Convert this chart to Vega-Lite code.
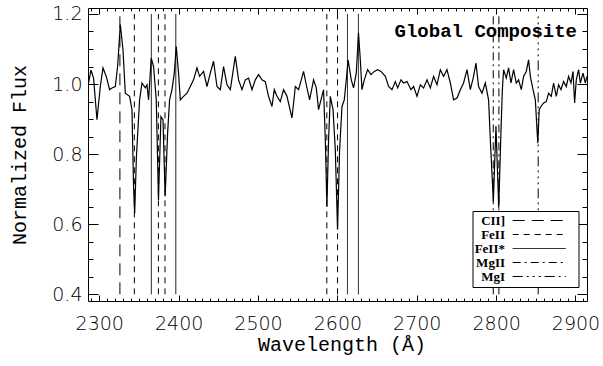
{
  "$schema": "https://vega.github.io/schema/vega-lite/v6.json",
  "width": 499,
  "height": 293,
  "autosize": {"type": "none"},
  "padding": {"left": 88, "top": 8, "right": 16, "bottom": 65},
  "background": "white",
  "config": {
    "view": {"stroke": null},
    "axis": {
      "grid": false,
      "domainColor": "black",
      "tickColor": "black",
      "labelColor": "black",
      "titleColor": "black",
      "tickWidth": 1,
      "domainWidth": 1,
      "labelFont": "DejaVu Sans",
      "labelFontWeight": 200,
      "labelFontSize": 19,
      "titleFont": "Liberation Mono",
      "titleFontSize": 20,
      "titleFontWeight": "normal",
      "labelFlush": false,
      "labelOverlap": false,
      "labelBound": false
    },
    "legend": {
      "orient": "none", "legendX": 384.5, "legendY": 203, "title": null,
      "direction": "vertical", "fillColor": "white", "strokeColor": "black", "padding": 3,
      "symbolType": "M-5,0H5M6.4,0", "symbolSize": 112.36, "symbolStrokeColor": "black", "symbolStrokeWidth": 1,
      "rowPadding": -1, "symbolOffset": 57.2, "labelOffset": -40.7, "labelAlign": "right",
      "labelFont": "Liberation Serif", "labelFontWeight": "bold", "labelFontSize": 13, "labelColor": "black", "labelLimit": 0
    }
  },
  "title": {
    "text": "Global Composite",
    "orient": "top",
    "anchor": "end",
    "frame": "group",
    "font": "Liberation Mono",
    "fontWeight": "bold",
    "fontSize": 19,
    "color": "black",
    "offset": 0,
    "dx": -10,
    "dy": 51,
    "baseline": "alphabetic"
  },
  "datasets": {
    "spec": [
      {"w": 2286.5, "f": 1.003}, {"w": 2289.5, "f": 1.04}, {"w": 2292.8, "f": 1.017}, {"w": 2297.1, "f": 0.898},
      {"w": 2301.3, "f": 0.993}, {"w": 2304.7, "f": 1.046}, {"w": 2308.8, "f": 1.022}, {"w": 2313.0, "f": 0.984},
      {"w": 2316.0, "f": 0.989}, {"w": 2320.2, "f": 0.993}, {"w": 2323.1, "f": 1.05}, {"w": 2326.5, "f": 1.17},
      {"w": 2329.9, "f": 1.098}, {"w": 2332.8, "f": 0.974}, {"w": 2338.2, "f": 0.965}, {"w": 2341.2, "f": 0.927},
      {"w": 2343.2, "f": 0.707}, {"w": 2344.6, "f": 0.631}, {"w": 2346.8, "f": 0.793}, {"w": 2350.8, "f": 0.955},
      {"w": 2353.8, "f": 1.003}, {"w": 2358.0, "f": 0.989}, {"w": 2360.1, "f": 0.998}, {"w": 2362.1, "f": 0.955},
      {"w": 2365.5, "f": 1.074}, {"w": 2368.4, "f": 1.05}, {"w": 2371.8, "f": 0.955}, {"w": 2374.6, "f": 0.669},
      {"w": 2377.7, "f": 0.907}, {"w": 2380.3, "f": 0.898}, {"w": 2383.0, "f": 0.68}, {"w": 2386.1, "f": 0.86},
      {"w": 2388.6, "f": 0.955}, {"w": 2391.6, "f": 0.984}, {"w": 2394.5, "f": 1.031}, {"w": 2397.0, "f": 1.107},
      {"w": 2399.9, "f": 1.031}, {"w": 2402.1, "f": 0.955}, {"w": 2406.2, "f": 0.965}, {"w": 2410.5, "f": 0.974},
      {"w": 2414.7, "f": 0.993}, {"w": 2418.8, "f": 1.012}, {"w": 2423.1, "f": 1.046}, {"w": 2426.4, "f": 1.022},
      {"w": 2431.4, "f": 1.036}, {"w": 2435.7, "f": 0.993}, {"w": 2439.9, "f": 1.031}, {"w": 2444.0, "f": 1.065},
      {"w": 2448.3, "f": 0.993}, {"w": 2452.5, "f": 0.984}, {"w": 2456.6, "f": 1.05}, {"w": 2460.9, "f": 0.998},
      {"w": 2465.1, "f": 0.984}, {"w": 2471.4, "f": 1.079}, {"w": 2475.5, "f": 1.012}, {"w": 2479.8, "f": 0.984},
      {"w": 2484.0, "f": 1.012}, {"w": 2488.1, "f": 1.017}, {"w": 2492.4, "f": 0.984}, {"w": 2496.6, "f": 1.012},
      {"w": 2500.7, "f": 1.027}, {"w": 2505.0, "f": 1.012}, {"w": 2509.2, "f": 1.007}, {"w": 2513.3, "f": 0.965},
      {"w": 2517.6, "f": 0.936}, {"w": 2520.5, "f": 0.984}, {"w": 2523.9, "f": 0.965}, {"w": 2528.1, "f": 0.95},
      {"w": 2532.2, "f": 0.984}, {"w": 2536.5, "f": 0.965}, {"w": 2542.8, "f": 0.903}, {"w": 2547.0, "f": 0.993},
      {"w": 2551.1, "f": 0.984}, {"w": 2557.4, "f": 1.036}, {"w": 2560.8, "f": 0.998}, {"w": 2565.0, "f": 0.955},
      {"w": 2570.0, "f": 1.012}, {"w": 2573.4, "f": 0.989}, {"w": 2576.3, "f": 0.927}, {"w": 2579.3, "f": 0.955},
      {"w": 2582.6, "f": 0.984}, {"w": 2584.8, "f": 0.841}, {"w": 2586.8, "f": 0.65}, {"w": 2588.9, "f": 0.841},
      {"w": 2591.1, "f": 0.965}, {"w": 2594.5, "f": 0.927}, {"w": 2597.4, "f": 0.812}, {"w": 2600.2, "f": 0.584},
      {"w": 2602.8, "f": 0.812}, {"w": 2605.8, "f": 0.936}, {"w": 2608.7, "f": 0.955}, {"w": 2611.2, "f": 1.012},
      {"w": 2613.5, "f": 1.069}, {"w": 2617.5, "f": 1.012}, {"w": 2620.4, "f": 0.989}, {"w": 2623.8, "f": 1.031},
      {"w": 2626.6, "f": 1.146}, {"w": 2628.9, "f": 1.069}, {"w": 2631.0, "f": 0.984}, {"w": 2633.9, "f": 1.012},
      {"w": 2638.1, "f": 1.041}, {"w": 2642.3, "f": 1.027}, {"w": 2646.5, "f": 1.036}, {"w": 2650.7, "f": 1.041},
      {"w": 2654.9, "f": 1.036}, {"w": 2660.4, "f": 1.022}, {"w": 2664.5, "f": 0.993}, {"w": 2668.8, "f": 0.984},
      {"w": 2673.0, "f": 1.007}, {"w": 2675.9, "f": 0.989}, {"w": 2680.1, "f": 1.012}, {"w": 2683.4, "f": 1.003},
      {"w": 2687.7, "f": 1.007}, {"w": 2692.7, "f": 0.984}, {"w": 2696.0, "f": 0.993}, {"w": 2700.3, "f": 0.965},
      {"w": 2704.5, "f": 0.998}, {"w": 2708.6, "f": 0.989}, {"w": 2712.9, "f": 1.012}, {"w": 2717.1, "f": 0.989},
      {"w": 2721.2, "f": 1.022}, {"w": 2725.5, "f": 0.998}, {"w": 2729.7, "f": 1.041}, {"w": 2733.8, "f": 1.022},
      {"w": 2738.1, "f": 1.041}, {"w": 2742.3, "f": 1.003}, {"w": 2746.4, "f": 0.955}, {"w": 2750.7, "f": 0.96},
      {"w": 2754.9, "f": 0.984}, {"w": 2759.0, "f": 1.003}, {"w": 2763.3, "f": 1.041}, {"w": 2767.5, "f": 0.984},
      {"w": 2771.6, "f": 1.022}, {"w": 2774.6, "f": 1.06}, {"w": 2777.9, "f": 0.993}, {"w": 2782.2, "f": 0.974},
      {"w": 2786.4, "f": 1.003}, {"w": 2790.5, "f": 0.955}, {"w": 2792.7, "f": 0.841}, {"w": 2796.5, "f": 0.665},
      {"w": 2799.8, "f": 0.88}, {"w": 2803.3, "f": 0.647}, {"w": 2805.9, "f": 0.85}, {"w": 2807.8, "f": 0.98},
      {"w": 2809.4, "f": 1.041}, {"w": 2812.8, "f": 1.017}, {"w": 2815.7, "f": 1.046}, {"w": 2818.7, "f": 1.003},
      {"w": 2822.0, "f": 1.041}, {"w": 2825.4, "f": 1.003}, {"w": 2828.3, "f": 1.012}, {"w": 2831.7, "f": 0.984},
      {"w": 2834.6, "f": 1.022}, {"w": 2838.0, "f": 1.036}, {"w": 2840.9, "f": 1.069}, {"w": 2843.1, "f": 1.022},
      {"w": 2846.5, "f": 0.984}, {"w": 2849.4, "f": 0.955}, {"w": 2852.5, "f": 0.831}, {"w": 2854.3, "f": 0.927},
      {"w": 2856.5, "f": 0.936}, {"w": 2859.8, "f": 0.946}, {"w": 2863.2, "f": 0.95}, {"w": 2866.1, "f": 0.974},
      {"w": 2869.5, "f": 0.965}, {"w": 2872.4, "f": 1.003}, {"w": 2875.8, "f": 0.965}, {"w": 2878.7, "f": 0.998},
      {"w": 2881.7, "f": 0.984}, {"w": 2885.0, "f": 1.007}, {"w": 2888.4, "f": 0.993}, {"w": 2891.3, "f": 1.022},
      {"w": 2894.3, "f": 1.003}, {"w": 2896.9, "f": 1.036}, {"w": 2898.9, "f": 0.946}, {"w": 2901.0, "f": 1.012},
      {"w": 2903.9, "f": 1.041}, {"w": 2906.1, "f": 1.003}, {"w": 2909.5, "f": 1.031}, {"w": 2912.4, "f": 1.003},
      {"w": 2914.5, "f": 1.022}
    ],
    "lines": [
      {"w": 2326.0, "ion": "CII]"},
      {"w": 2344.2, "ion": "FeII"},
      {"w": 2374.5, "ion": "FeII"},
      {"w": 2382.8, "ion": "FeII"},
      {"w": 2586.7, "ion": "FeII"},
      {"w": 2600.2, "ion": "FeII"},
      {"w": 2365.6, "ion": "FeII*"},
      {"w": 2396.4, "ion": "FeII*"},
      {"w": 2612.7, "ion": "FeII*"},
      {"w": 2626.5, "ion": "FeII*"},
      {"w": 2796.4, "ion": "MgII"},
      {"w": 2803.5, "ion": "MgII"},
      {"w": 2853.0, "ion": "MgI"}
    ]
  },
  "resolve": {"axis": {"x": "independent", "y": "independent"}},
  "layer": [
    {
      "data": {"name": "spec"},
      "mark": {"type": "line", "stroke": "black", "strokeWidth": 1.2, "clip": true},
      "encoding": {
        "x": {
          "field": "w", "type": "quantitative",
          "scale": {"domain": [2285.8, 2914.5], "nice": false, "zero": false},
          "axis": {
            "orient": "bottom",
            "values": [2300, 2400, 2500, 2600, 2700, 2800, 2900],
            "format": "d",
            "tickSize": -6,
            "labelPadding": 19,
            "title": "Wavelength (Å)",
            "titleX": 253.5,
            "titleY": 49,
            "titleBaseline": "alphabetic"
          }
        },
        "y": {
          "field": "f", "type": "quantitative",
          "scale": {"domain": [0.381, 1.217], "nice": false, "zero": false},
          "axis": {
            "orient": "left",
            "values": [0.4, 0.6, 0.8, 1.0, 1.2],
            "format": ".1f",
            "tickSize": -10,
            "labelPadding": 16,
            "title": "Normalized Flux",
            "titleX": -63,
            "titleBaseline": "alphabetic"
          }
        }
      }
    },
    {
      "data": {"name": "lines"},
      "transform": [{"filter": {"field": "ion", "oneOf": ["CII]", "FeII"]}}],
      "mark": {"type": "rule", "stroke": "black", "strokeWidth": 1},
      "encoding": {
        "x": {
          "field": "w", "type": "quantitative",
          "scale": {"domain": [2285.8, 2914.5], "nice": false, "zero": false},
          "axis": {
            "orient": "bottom",
            "values": [2290, 2300, 2310, 2320, 2330, 2340, 2350, 2360, 2370, 2380, 2390, 2400, 2410, 2420, 2430, 2440, 2450, 2460, 2470, 2480, 2490, 2500, 2510, 2520, 2530, 2540, 2550, 2560, 2570, 2580, 2590, 2600, 2610, 2620, 2630, 2640, 2650, 2660, 2670, 2680, 2690, 2700, 2710, 2720, 2730, 2740, 2750, 2760, 2770, 2780, 2790, 2800, 2810, 2820, 2830, 2840, 2850, 2860, 2870, 2880, 2890, 2900, 2910],
            "tickSize": -3,
            "labels": false,
            "domain": false,
            "title": null
          }
        },
        "y": {
          "datum": 0.4, "type": "quantitative",
          "scale": {"domain": [0.381, 1.217], "nice": false, "zero": false},
          "axis": {
            "orient": "left",
            "values": [0.4, 0.45, 0.5, 0.55, 0.6, 0.65, 0.7, 0.75, 0.8, 0.85, 0.9, 0.95, 1.0, 1.05, 1.1, 1.15, 1.2],
            "tickSize": -5,
            "labels": false,
            "domain": false,
            "title": null
          }
        },
        "y2": {"datum": 1.2},
        "strokeDash": {
          "field": "ion", "type": "nominal",
          "scale": {"domain": ["CII]", "FeII", "FeII*", "MgII", "MgI"], "range": [[12, 7], [6, 5], [1, 0], [8, 4, 2, 4], [10, 4, 2, 4, 2, 4, 2, 4]]},
          "legend": {"title": null}
        }
      }
    },
    {
      "data": {"name": "lines"},
      "transform": [{"filter": {"field": "ion", "oneOf": ["FeII*"]}}],
      "mark": {"type": "rule", "stroke": "black", "strokeWidth": 1},
      "encoding": {
        "x": {
          "field": "w", "type": "quantitative",
          "scale": {"domain": [2285.8, 2914.5], "nice": false, "zero": false},
          "axis": {
            "orient": "top",
            "values": [2300, 2400, 2500, 2600, 2700, 2800, 2900],
            "tickSize": -6,
            "labels": false,
            "domain": true,
            "title": null
          }
        },
        "y": {
          "datum": 0.4, "type": "quantitative",
          "scale": {"domain": [0.381, 1.217], "nice": false, "zero": false},
          "axis": {
            "orient": "right",
            "values": [0.4, 0.6, 0.8, 1.0, 1.2],
            "tickSize": -10,
            "labels": false,
            "domain": true,
            "title": null
          }
        },
        "y2": {"datum": 1.2},
        "strokeDash": {
          "field": "ion", "type": "nominal",
          "scale": {"domain": ["CII]", "FeII", "FeII*", "MgII", "MgI"], "range": [[12, 7], [6, 5], [1, 0], [8, 4, 2, 4], [10, 4, 2, 4, 2, 4, 2, 4]]},
          "legend": {"title": null}
        }
      }
    },
    {
      "data": {"name": "lines"},
      "transform": [{"filter": {"field": "ion", "oneOf": ["MgII", "MgI"]}}],
      "mark": {"type": "rule", "stroke": "black", "strokeWidth": 1},
      "encoding": {
        "x": {
          "field": "w", "type": "quantitative",
          "scale": {"domain": [2285.8, 2914.5], "nice": false, "zero": false},
          "axis": {
            "orient": "top",
            "values": [2290, 2300, 2310, 2320, 2330, 2340, 2350, 2360, 2370, 2380, 2390, 2400, 2410, 2420, 2430, 2440, 2450, 2460, 2470, 2480, 2490, 2500, 2510, 2520, 2530, 2540, 2550, 2560, 2570, 2580, 2590, 2600, 2610, 2620, 2630, 2640, 2650, 2660, 2670, 2680, 2690, 2700, 2710, 2720, 2730, 2740, 2750, 2760, 2770, 2780, 2790, 2800, 2810, 2820, 2830, 2840, 2850, 2860, 2870, 2880, 2890, 2900, 2910],
            "tickSize": -3,
            "labels": false,
            "domain": false,
            "title": null
          }
        },
        "y": {
          "datum": 0.4, "type": "quantitative",
          "scale": {"domain": [0.381, 1.217], "nice": false, "zero": false},
          "axis": {
            "orient": "right",
            "values": [0.4, 0.45, 0.5, 0.55, 0.6, 0.65, 0.7, 0.75, 0.8, 0.85, 0.9, 0.95, 1.0, 1.05, 1.1, 1.15, 1.2],
            "tickSize": -5,
            "labels": false,
            "domain": false,
            "title": null
          }
        },
        "y2": {"datum": 1.2},
        "strokeDash": {
          "field": "ion", "type": "nominal",
          "scale": {"domain": ["CII]", "FeII", "FeII*", "MgII", "MgI"], "range": [[12, 7], [6, 5], [1, 0], [8, 4, 2, 4], [10, 4, 2, 4, 2, 4, 2, 4]]},
          "legend": {"title": null}
        }
      }
    }
  ]
}
